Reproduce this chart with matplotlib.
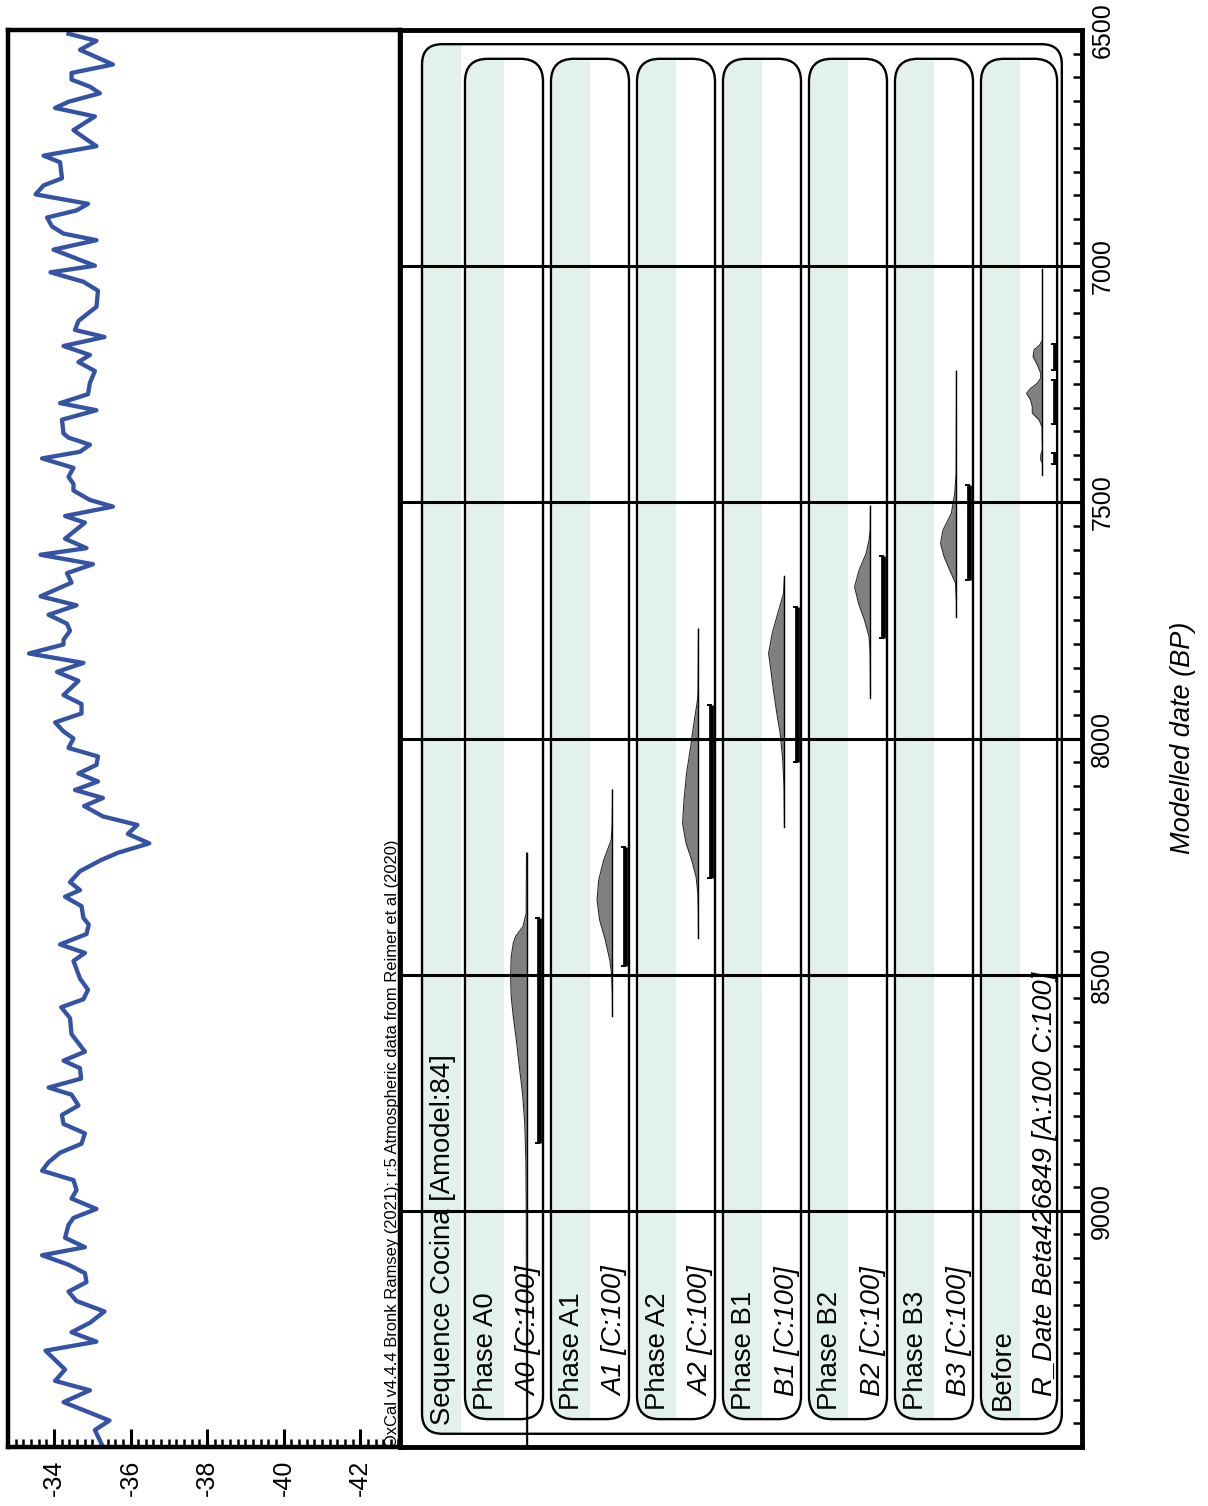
import numpy as np
import matplotlib
matplotlib.use("Agg")
import matplotlib.pyplot as plt
from matplotlib.patches import FancyBboxPatch, Rectangle

plt.rcParams['font.family'] = ['Liberation Sans', 'DejaVu Sans']

# isotope record (left panel), age BP vs value
iso_age = [6508, 6523, 6542, 6573, 6591, 6605, 6620, 6634, 6652, 6665,
           6683, 6712, 6727, 6746, 6766, 6780, 6814, 6829, 6848, 6868,
           6882, 6897, 6916, 6931, 6945, 6965, 6999, 7013, 7033, 7052,
           7086, 7116, 7135, 7150, 7169, 7188, 7203, 7222, 7247, 7271,
           7290, 7305, 7325, 7354, 7363, 7378, 7393, 7407, 7427, 7446,
           7461, 7475, 7495, 7509, 7529, 7543, 7577, 7597, 7611, 7631,
           7650, 7670, 7699, 7718, 7738, 7757, 7772, 7791, 7801, 7820,
           7840, 7859, 7878, 7908, 7927, 7947, 7966, 7985, 8000, 8020,
           8038, 8056, 8074, 8091, 8109, 8126, 8143, 8165, 8183, 8202,
           8222, 8242, 8257, 8281, 8304, 8321, 8335, 8355, 8380, 8394,
           8414, 8436, 8454, 8471, 8508, 8532, 8552, 8569, 8592, 8626,
           8663, 8682, 8698, 8720, 8739, 8754, 8777, 8797, 8816, 8836,
           8858, 8877, 8897, 8915, 8935, 8956, 8974, 8996, 9015, 9030,
           9057, 9077, 9094, 9114, 9132, 9151, 9171, 9191, 9213, 9237,
           9257, 9277, 9296, 9336, 9360, 9380, 9405, 9444, 9464, 9493]
iso_val = [-34.38, -35.11, -34.68, -35.54, -34.46, -34.46, -34.94, -35.20, -34.38, -34.03,
           -35.07, -34.51, -34.77, -35.11, -33.73, -34.16, -34.21, -33.73, -33.52, -34.89,
           -34.59, -33.82, -33.95, -34.25, -35.11, -33.99, -35.07, -33.91, -34.77, -35.15,
           -35.11, -34.64, -34.55, -35.32, -34.25, -34.94, -34.64, -35.07, -34.94, -34.89,
           -34.16, -35.11, -34.21, -34.25, -34.38, -34.94, -34.68, -33.69, -34.51, -34.38,
           -34.51, -34.51, -34.94, -35.54, -34.29, -34.81, -34.29, -34.85, -33.65, -35.02,
           -34.34, -34.46, -33.65, -34.59, -33.86, -34.34, -34.42, -34.25, -34.25, -33.35,
           -34.77, -34.08, -34.64, -34.25, -34.72, -34.72, -34.03, -34.25, -34.51, -34.38,
           -35.15, -35.11, -34.64, -35.15, -34.55, -35.28, -34.79, -35.28, -36.18, -35.93,
           -36.49, -35.67, -35.24, -34.68, -34.42, -34.68, -34.29, -34.72, -34.77, -34.91,
           -34.85, -34.16, -34.81, -34.51, -34.68, -34.89, -34.77, -34.19, -34.42, -34.46,
           -34.81, -34.25, -34.68, -34.71, -33.86, -34.46, -34.64, -34.21, -34.25, -34.81,
           -34.72, -34.16, -33.86, -33.69, -34.51, -34.59, -34.46, -35.11, -34.51, -34.38,
           -34.29, -34.81, -33.69, -34.38, -34.81, -34.85, -34.38, -34.59, -35.32, -34.94,
           -34.46, -35.11, -33.78, -34.29, -34.03, -34.94, -34.25, -35.45, -35.07, -35.24]
iso_ticks = [-34, -36, -38, -40, -42]

# OxCal rows
row_labels = ["Sequence Cocina [Amodel:84]",
              "Phase A0", "A0 [C:100]",
              "Phase A1", "A1 [C:100]",
              "Phase A2", "A2 [C:100]",
              "Phase B1", "B1 [C:100]",
              "Phase B2", "B2 [C:100]",
              "Phase B3", "B3 [C:100]",
              "Before", "R_Date Beta426849 [A:100 C:100]"]
row_level = [0, 1, 2, 1, 2, 1, 2, 1, 2, 1, 2, 1, 2, 1, 2]
phase_rows = [1, 3, 5, 7, 9, 11, 13]

# posterior distributions (age BP, relative probability) for the data rows
dist_rows = [2, 4, 6, 8, 10, 12, 14]
dist_age = [
    [8242, 8370, 8398, 8419, 8433, 8462, 8504, 8547, 8589, 8638, 8695, 8751, 8814, 8892, 9000, 9200, 9500],
    [8109, 8180, 8215, 8257, 8300, 8342, 8384, 8427, 8469, 8497, 8540, 8588],
    [7768, 7900, 7918, 7975, 8017, 8074, 8130, 8180, 8222, 8257, 8293, 8328, 8370, 8423],
    [7657, 7693, 7735, 7777, 7820, 7862, 7904, 7947, 7989, 8045, 8102, 8187],
    [7508, 7560, 7580, 7608, 7643, 7679, 7714, 7749, 7784, 7820, 7914],
    [7222, 7439, 7481, 7523, 7559, 7587, 7615, 7643, 7671, 7707, 7742],
    [7007, 7156, 7167, 7177, 7192, 7209, 7227, 7237, 7248, 7259, 7269, 7283, 7297, 7311, 7326, 7340,
     7389, 7400, 7410, 7417, 7442],
]
dist_prob = [
    [0, 0.02, 0.22, 0.68, 0.83, 0.96, 1.0, 0.96, 0.83, 0.64, 0.45, 0.25, 0.11, 0.04, 0.015, 0.005, 0],
    [0, 0.02, 0.08, 0.55, 0.87, 0.97, 0.81, 0.45, 0.17, 0.06, 0.01, 0],
    [0, 0.03, 0.06, 0.32, 0.49, 0.75, 0.91, 1.0, 0.78, 0.43, 0.15, 0.04, 0.01, 0],
    [0, 0.06, 0.42, 0.77, 1.0, 0.83, 0.67, 0.48, 0.27, 0.11, 0.03, 0],
    [0, 0.02, 0.09, 0.27, 0.71, 1.0, 0.75, 0.38, 0.09, 0.02, 0],
    [0, 0.02, 0.11, 0.32, 0.85, 1.0, 0.78, 0.43, 0.06, 0.01, 0],
    [0, 0, 0.17, 0.53, 0.59, 0.32, 0.11, 0.11, 0.32, 0.75, 1.0, 0.75, 0.64, 0.64, 0.21, 0.03,
     0, 0.11, 0.11, 0, 0],
]
# 95.4% ranges
dist_ranges = [
    [(8380, 8856)],
    [(8229, 8482)],
    [(7929, 8296)],
    [(7721, 8049)],
    [(7614, 7787)],
    [(7463, 7664)],
    [(7165, 7219), (7240, 7334), (7396, 7419)],
]

date_ticks = [6500, 7000, 7500, 8000, 8500, 9000]
grid_dates = [7000, 7500, 8000, 8500, 9000]

W, H = 1208, 1506
fig = plt.figure(figsize=(W / 100, H / 100), dpi=100)
axL = fig.add_axes([8 / W, 1 - 1447 / H, 392 / W, 1417 / H])
axR = fig.add_axes([400 / W, 1 - 1447 / H, 682 / W, 1417 / H])

green = '#e2f2eb'
blue = '#3553a5'

# ---- left panel
axL.plot(iso_val, iso_age, color=blue, lw=3.1)
axL.set_xlim(-32.86, -43.04)
axL.set_ylim(9500, 6500)
axL.set_yticks([])
axL.set_xticks(iso_ticks)
axL.set_xticks(np.arange(-43.0, -32.8, 0.2), minor=True)
axL.tick_params(axis='x', which='major', direction='in', length=13, width=2.2,
                labelsize=18, pad=9)
axL.tick_params(axis='x', which='minor', direction='in', length=6, width=1.8)
axL.set_xticklabels([str(t) for t in iso_ticks], rotation=90)
for s in axL.spines.values():
    s.set_linewidth(3.2)

# ---- right panel (OxCal plot)
axR.set_xlim(-0.512, 15.349)
axR.set_ylim(9500, 6500)
axR.set_xticks([])
axR.yaxis.tick_right()
axR.set_yticks(date_ticks)
axR.set_yticks(np.arange(6500, 9501, 50), minor=True)
axR.tick_params(axis='y', which='major', direction='in', length=14, width=2.2,
                labelsize=18, pad=6)
axR.tick_params(axis='y', which='minor', direction='in', length=6.5, width=1.8)
plt.setp(axR.get_yticklabels(), rotation=90, va='center')
for s in axR.spines.values():
    s.set_linewidth(3.5)

aspect = (682 / 15.861) / (1417 / 3000)

# sequence box
seq_box = FancyBboxPatch((0, 6530), 14.88, 9472 - 6530,
                         boxstyle="round,pad=0,rounding_size=0.47",
                         mutation_aspect=aspect, fc='none', ec='black', lw=1.7, zorder=3)
axR.add_patch(seq_box)
band = Rectangle((0.03, 6400), 0.87, 3200, fc=green, ec='none', zorder=1)
axR.add_patch(band)
band.set_clip_path(seq_box)

for r in phase_rows:
    width = 1.814 if r < 13 else 1.77
    box = FancyBboxPatch((r, 6561), width, 9441 - 6561,
                         boxstyle="round,pad=0,rounding_size=0.53",
                         mutation_aspect=aspect, fc='none', ec='black', lw=1.7, zorder=3)
    axR.add_patch(box)
    band = Rectangle((r + 0.04, 6400), 0.86, 3200, fc=green, ec='none', zorder=1)
    axR.add_patch(band)
    band.set_clip_path(box)

# distributions
for r, ages, probs, ranges in zip(dist_rows, dist_age, dist_prob, dist_ranges):
    xb = r + 0.43
    xs = xb - np.array(probs) * 0.37
    axR.fill_betweenx(ages, xs, xb, color='#808080', lw=0, zorder=2)
    axR.plot(xs, ages, color='#2a2a2a', lw=0.8, zorder=2)
    axR.plot([xb, xb], [min(ages), max(ages)], color='black', lw=1.0, zorder=2)
    xr = r + 0.71
    for a, b in ranges:
        axR.plot([xr, xr], [a, b], color='black', lw=3.4, solid_capstyle='butt', zorder=2)
        axR.plot([xr - 0.06, xr], [a, a], color='black', lw=1.4, zorder=2)
        axR.plot([xr - 0.06, xr], [b, b], color='black', lw=1.4, zorder=2)

# row labels
label_start = {0: 9453, 1: 9422, 2: 9393}
for i, lab in enumerate(row_labels):
    italic = row_level[i] == 2
    axR.text(i + 0.66, label_start[row_level[i]], lab, rotation=90, rotation_mode='anchor',
             ha='left', va='baseline', fontsize=19.8,
             style='italic' if italic else 'normal', zorder=4)

for d in grid_dates:
    axR.axhline(d, color='black', lw=2.2, zorder=5)

fig.text(397 / W, 1 - 1447 / H,
         "OxCal v4.4.4 Bronk Ramsey (2021); r:5 Atmospheric data from Reimer et al (2020)",
         rotation=90, rotation_mode='anchor', ha='left', va='baseline', fontsize=11.9)
fig.text(1183 / W, 1 - 738 / H, "Modelled date (BP)", rotation=90, ha='center',
         va='center', fontsize=19.5, style='italic')

fig.savefig("out.png", dpi=100)
